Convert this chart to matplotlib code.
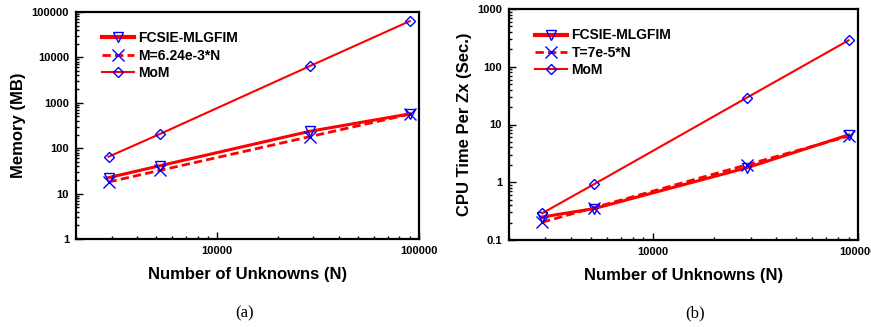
import matplotlib
matplotlib.use("Agg")
import matplotlib.pyplot as plt
from matplotlib.ticker import LogLocator, FixedLocator, FuncFormatter, NullFormatter

plt.rcParams['font.family'] = ['Liberation Sans', 'DejaVu Sans']
plt.rcParams['font.weight'] = 'bold'

# Anzahl der Unbekannten (gemeinsam fuer beide Diagramme)
n_unknowns = [2900, 5200, 28700, 90000]

# (a) Speicher in MB
mem_fcsie = [22.5, 41, 235, 570]
mem_fit = [18, 32.4, 179, 562]      # M = 6.24e-3*N
mem_mom = [65, 205, 6400, 63000]

# (b) CPU-Zeit pro Zx in Sekunden
cpu_fcsie = [0.25, 0.35, 1.78, 6.6]
cpu_fit = [0.203, 0.364, 2.0, 6.3]   # T = 7e-5*N
cpu_mom = [0.29, 0.93, 29, 287]

labels_a = ['FCSIE-MLGFIM', 'M=6.24e-3*N', 'MoM']
labels_b = ['FCSIE-MLGFIM', 'T=7e-5*N', 'MoM']


def fmt(v, pos):
    if v >= 1:
        return '%d' % round(v)
    return ('%g' % v)


def panel(ax, y1, y2, y3, labels, ylim, ylabel):
    ax.plot(n_unknowns, y1, color='red', lw=2.2, marker='v', ms=7, mfc='none',
            mec='blue', mew=1, label=labels[0])
    ax.plot(n_unknowns, y2, color='red', lw=2, ls=(0, (3, 1.5)), marker='x', ms=8,
            mec='blue', mew=1, label=labels[1])
    ax.plot(n_unknowns, y3, color='red', lw=1.5, marker='D', ms=5.5, mfc='none',
            mec='blue', mew=1, label=labels[2])
    ax.set_xscale('log')
    ax.set_yscale('log')
    ax.set_xlim(2000, 100000)
    ax.set_ylim(*ylim)
    ax.xaxis.set_major_locator(FixedLocator([10000, 100000]))
    ax.xaxis.set_minor_locator(LogLocator(base=10, subs=range(2, 10)))
    ax.xaxis.set_major_formatter(FuncFormatter(fmt))
    ax.xaxis.set_minor_formatter(NullFormatter())
    ax.yaxis.set_major_locator(LogLocator(base=10, numticks=20))
    ax.yaxis.set_minor_locator(LogLocator(base=10, subs=range(2, 10), numticks=20))
    ax.yaxis.set_major_formatter(FuncFormatter(fmt))
    ax.yaxis.set_minor_formatter(NullFormatter())
    ax.tick_params(which='both', direction='in', top=False, right=False,
                   labelsize=8, width=1)
    ax.tick_params(which='major', length=5, pad=5)
    ax.tick_params(which='minor', length=2.5)
    for s in ax.spines.values():
        s.set_linewidth(1.6)
    ax.set_xlabel('Number of Unknowns (N)', fontsize=12, fontweight='bold', labelpad=8)
    ax.set_ylabel(ylabel, fontsize=12, fontweight='bold', labelpad=4)
    leg = ax.legend(loc='upper left', bbox_to_anchor=(0.06, 0.94), frameon=False,
                    fontsize=10, handlelength=2.3, handletextpad=0.3, labelspacing=0.25,
                    borderaxespad=0)
    leg.get_lines()[0].set_linewidth(3)


fig = plt.figure(figsize=(8.71, 3.27), dpi=100)
ax1 = fig.add_axes([76 / 871, 88 / 327, 343 / 871, 227 / 327])
ax2 = fig.add_axes([509 / 871, 87 / 327, 349 / 871, 231 / 327])

panel(ax1, mem_fcsie, mem_fit, mem_mom, labels_a, (1, 100000), 'Memory (MB)')
panel(ax2, cpu_fcsie, cpu_fit, cpu_mom, labels_b, (0.1, 1000), 'CPU Time Per Zx (Sec.)')

fig.text(245 / 871, 1 - 313 / 327, '(a)', ha='center', va='center',
         family='Liberation Serif', fontweight='normal', fontsize=12)
fig.text(695 / 871, 1 - 313 / 327, '(b)', ha='center', va='center',
         family='Liberation Serif', fontweight='normal', fontsize=12)

fig.savefig('out.png', dpi=100)
